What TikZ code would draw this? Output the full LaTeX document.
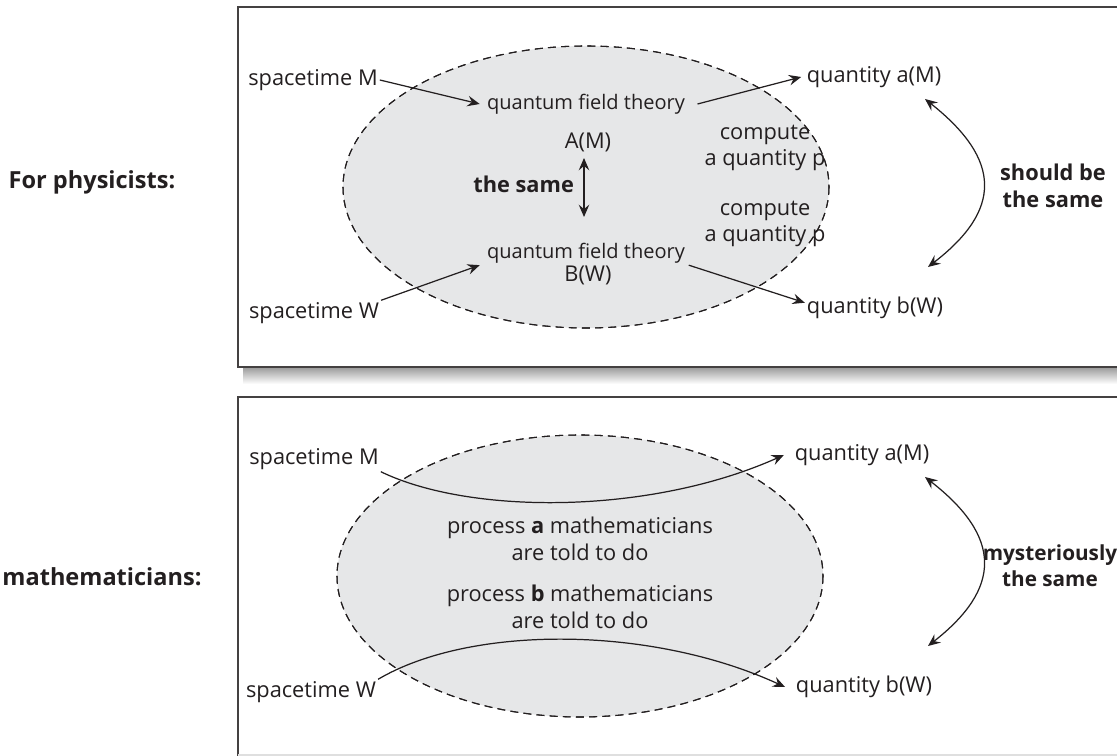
\documentclass[tikz,border=0pt]{standalone}
\usepackage{fontspec}
\setmainfont{Open Sans}
\usetikzlibrary{arrows.meta}
\definecolor{blobgray}{HTML}{E6E7E8}
\definecolor{inkgray}{HTML}{231F20}
\tikzset{
  lbl/.style={text=inkgray, inner sep=1pt, font=\fontsize{12.4}{15}\selectfont},
  qft/.style={text=inkgray, inner sep=1pt, font=\fontsize{11.4}{14}\selectfont},
  boldlbl/.style={text=inkgray, inner sep=1pt, align=center, font=\fontsize{12.4}{15}\selectfont\bfseries},
  sidelbl/.style={boldlbl, font=\fontsize{13.4}{16}\selectfont\bfseries},
  blob/.style={fill=blobgray, draw=inkgray, line width=0.6pt, dash pattern=on 4.5pt off 3pt},
  panel/.style={draw=inkgray!85, line width=1.1pt},
  arr/.style={draw=inkgray, line width=0.7pt, -{Stealth[length=7pt, width=6pt, inset=2.5pt]}},
  dblarr/.style={draw=inkgray, line width=0.7pt, {Stealth[length=7pt, width=6pt, inset=2.5pt]}-{Stealth[length=7pt, width=6pt, inset=2.5pt]}}
}

\begin{document}
\begin{tikzpicture}[x=0.02cm, y=-0.02cm]
\clip (0,0) rectangle (1117,756);
\fill[white] (0,0) rectangle (1117,756);

% panels
\shade[top color=gray!75, bottom color=white] (243,368) rectangle (1130,384);
\draw[panel] (238,7) rectangle (1130,367);
\draw[panel] (238,760) -- (238,397) -- (1130,397);
\draw[gray!25, line width=0.8pt] (238,755) -- (1130,755);

\fill[blob] (586,187) ellipse [x radius=243, y radius=141];
\fill[blob] (580,576) ellipse [x radius=243, y radius=141];
\draw[blob, fill=none] (586,187) ellipse [x radius=243, y radius=141];
\draw[blob, fill=none] (580,576) ellipse [x radius=243, y radius=141];

% physicists
\node[sidelbl] (phys) at (92,182) {For physicists:};
\node[lbl] (spM) at (313,80) {spacetime M};
\node[qft] (qftA) at (586,104) {quantum field theory};
\node[lbl] (AM) at (588,142) {A(M)};
\node[boldlbl, anchor=east] (same) at (576,184) {the same};
\node[qft] (qftB) at (586,253) {quantum field theory};
\node[lbl] (BW) at (588,275) {B(W)};
\node[lbl] (spW) at (314,313) {spacetime W};
\node[lbl] (qaM) at (874,77) {quantity a(M)};
\node[lbl, align=center] (compA) at (765,148) {compute\\a quantity p};
\node[lbl, align=center] (compB) at (765,224) {compute\\a quantity p};
\node[lbl] (qbW) at (875,308) {quantity b(W)};
\node[boldlbl] (should) at (1053,186) {should be\\the same};

\coordinate (sameTop) at (584,158);
\coordinate (sameBot) at (584,217);
\coordinate (aTip) at (925,99);
\coordinate (bTip) at (928,267);

\draw[arr] (spM.east) -- ([xshift=-3pt]qftA.west);
\draw[arr] (spW.north east) -- ([xshift=-3pt]qftB.south west);
\draw[arr] ([xshift=6pt]qftA.east) -- ([xshift=-2pt]qaM.west);
\draw[arr] ([xshift=1pt]qftB.south east) -- ([yshift=3pt]qbW.west);
\draw[dblarr] (sameTop) -- (sameBot);
\draw[dblarr] (aTip) .. controls (1002,160) and (1002,210) .. (bTip);

% mathematicians
\node[sidelbl] (maths) at (102,577) {mathematicians:};
\node[lbl] (spM2) at (314,459) {spacetime M};
\node[lbl] (spW2) at (311,692) {spacetime W};
\node[lbl] (qaM2) at (862,455) {quantity a(M)};
\node[lbl] (qbW2) at (864,687) {quantity b(W)};
\node[lbl, align=center] (procA) at (580,539) {process \textbf{a} mathematicians\\are told to do};
\node[lbl, align=center] (procB) at (580,607) {process \textbf{b} mathematicians\\are told to do};
\node[boldlbl, font=\fontsize{11.8}{15}\selectfont\bfseries] (myst) at (1050,566) {mysteriously\\the same};

\coordinate (aTip2) at (925,477);
\coordinate (bTip2) at (928,646);

\draw[arr] (spM2.south east) .. controls (470,515) and (650,515) .. ([xshift=-5pt]qaM2.west);
\draw[arr] (spW2.north east) .. controls (470,625) and (650,625) .. ([xshift=-5pt]qbW2.west);
\draw[dblarr] (aTip2) .. controls (1002,537) and (1002,588) .. (bTip2);

\end{tikzpicture}
\end{document}
